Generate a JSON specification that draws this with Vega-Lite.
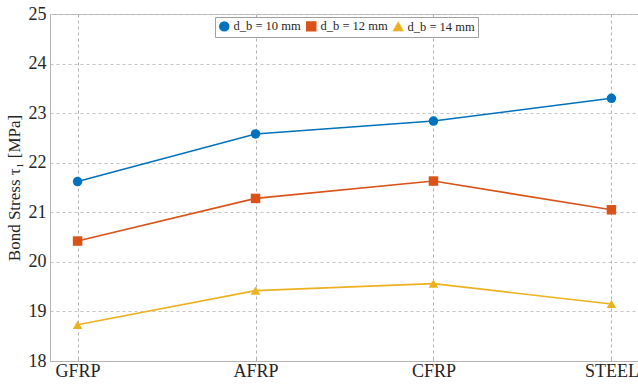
{
  "$schema": "https://vega.github.io/schema/vega-lite/v6.json",
  "width": 589,
  "height": 347,
  "autosize": "none",
  "padding": {"left": 50, "top": 14, "right": 0, "bottom": 24},
  "background": "white",
  "config": {
    "font": "Liberation Serif",
    "view": {"stroke": "#b4b4b4", "strokeWidth": 1},
    "axis": {
      "labelFont": "Liberation Serif",
      "titleFont": "Liberation Serif",
      "labelColor": "#262626",
      "titleColor": "#262626",
      "domainColor": "#b4b4b4",
      "tickColor": "#b4b4b4",
      "gridColor": "#c4c4c4",
      "gridDash": [3, 3],
      "gridWidth": 1
    },
    "legend": {
      "labelFont": "Liberation Serif"
    }
  },
  "data": {
    "values": [
      {"material": "GFRP", "series": "d_b = 10 mm", "tau": 21.62},
      {"material": "AFRP", "series": "d_b = 10 mm", "tau": 22.58},
      {"material": "CFRP", "series": "d_b = 10 mm", "tau": 22.84},
      {"material": "STEEL", "series": "d_b = 10 mm", "tau": 23.30},
      {"material": "GFRP", "series": "d_b = 12 mm", "tau": 20.42},
      {"material": "AFRP", "series": "d_b = 12 mm", "tau": 21.28},
      {"material": "CFRP", "series": "d_b = 12 mm", "tau": 21.63},
      {"material": "STEEL", "series": "d_b = 12 mm", "tau": 21.05},
      {"material": "GFRP", "series": "d_b = 14 mm", "tau": 18.73},
      {"material": "AFRP", "series": "d_b = 14 mm", "tau": 19.42},
      {"material": "CFRP", "series": "d_b = 14 mm", "tau": 19.56},
      {"material": "STEEL", "series": "d_b = 14 mm", "tau": 19.15}
    ]
  },
  "encoding": {
    "x": {
      "field": "material",
      "type": "ordinal",
      "sort": ["GFRP", "AFRP", "CFRP", "STEEL"],
      "scale": {"type": "point", "padding": 0.155},
      "axis": {
        "title": null,
        "labelAngle": 0,
        "labelFontSize": 18,
        "labelPadding": 5,
        "tickSize": -4,
        "grid": true,
        "gridColor": "#b0b0b0",
        "gridDash": [3, 3],
        "domain": true
      }
    },
    "y": {
      "field": "tau",
      "type": "quantitative",
      "scale": {"domain": [18, 25], "nice": false, "zero": false},
      "axis": {
        "values": [18, 19, 20, 21, 22, 23, 24, 25],
        "title": "Bond Stress τ₁ [MPa]",
        "titleFontSize": 17,
        "titleFontWeight": "normal",
        "titlePadding": 5,
        "labelFontSize": 18,
        "labelPadding": 4,
        "tickSize": 0,
        "grid": true
      }
    },
    "color": {
      "field": "series",
      "type": "nominal",
      "scale": {
        "domain": ["d_b = 10 mm", "d_b = 12 mm", "d_b = 14 mm"],
        "range": ["#0072BD", "#D95319", "#EDB120"]
      },
      "legend": {
        "title": null,
        "orient": "none",
        "legendX": 165,
        "legendY": 3,
        "direction": "horizontal",
        "fillColor": "white",
        "strokeColor": "#a0a0a0",
        "padding": 3,
        "labelFont": "Liberation Serif",
        "labelFontSize": 12.5,
        "labelColor": "#262626",
        "symbolSize": 80,
        "columnPadding": 2,
        "labelOffset": 3
      }
    }
  },
  "layer": [
    {
      "mark": {"type": "line", "strokeWidth": 1.6}
    },
    {
      "mark": {"type": "point", "filled": true, "opacity": 1, "size": 90},
      "encoding": {
        "shape": {
          "field": "series",
          "type": "nominal",
          "scale": {
            "domain": ["d_b = 10 mm", "d_b = 12 mm", "d_b = 14 mm"],
            "range": ["circle", "square", "triangle-up"]
          },
          "legend": {
            "title": null,
            "orient": "none",
            "legendX": 165,
            "legendY": 3,
            "direction": "horizontal",
            "fillColor": "white",
            "strokeColor": "#a0a0a0",
            "padding": 3,
            "labelFont": "Liberation Serif",
            "labelFontSize": 12.5,
            "labelColor": "#262626",
            "symbolSize": 80,
            "columnPadding": 2,
            "labelOffset": 3
          }
        }
      }
    }
  ]
}
